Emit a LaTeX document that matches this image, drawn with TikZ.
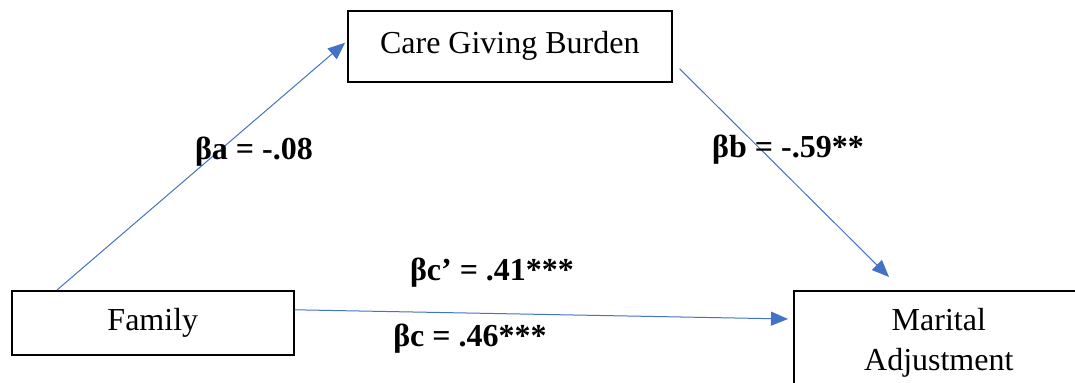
\documentclass[tikz,border=0pt]{standalone}
\usepackage{fontspec}
\setmainfont{Liberation Serif}
\usepackage{xcolor}
\usetikzlibrary{arrows.meta, positioning, calc}
\definecolor{pathblue}{HTML}{4472C4}

\begin{document}
\begin{tikzpicture}[x=0.5pt, y=-0.5pt,
    box/.style={draw=black, line width=0.8pt, fill=white, inner sep=0pt,
      font=\fontsize{16}{20}\selectfont},
    conn/.style={draw=pathblue, line width=0.5pt,
      -{Triangle[length=8.5pt, width=7pt]}},
    lbl/.style={font=\fontsize{16}{20}\selectfont\bfseries, inner sep=0pt}]
  \useasboundingbox (0,0) rectangle (1075,383);
  \clip (0,0) rectangle (1075,383);
  \node[box, anchor=north west, minimum width=141pt, minimum height=32pt] (fam) at (11,290) {Family};
  \node[box, anchor=north west, minimum width=162pt, minimum height=35.5pt] (cgb) at (347,10) {Care Giving Burden};
  \node[box, anchor=north west, minimum width=145pt, minimum height=52.5pt, align=center] (mar) at (793,290) {Marital\\Adjustment};
  % paths
  \draw[conn] ([shift={(46,0)}]fam.north west) -- ([shift={(-2,-3.5)}]cgb.west);
  \draw[conn] ([shift={(7,22.5)}]cgb.east) -- ([shift={(96,-13)}]mar.north west);
  \draw[conn] ([shift={(0,-13)}]fam.east) -- ([shift={(-5,29)}]mar.north west);
  % coefficients
  \node[lbl] (la) at (254,152) {βa = -.08};
  \node[lbl] (lb) at (788,150) {βb = -.59**};
  \node[lbl] (lcp) at (492,273) {βc’ = .41***};
  \node[lbl] (lc) at (470,339) {βc = .46***};
\end{tikzpicture}
\end{document}
